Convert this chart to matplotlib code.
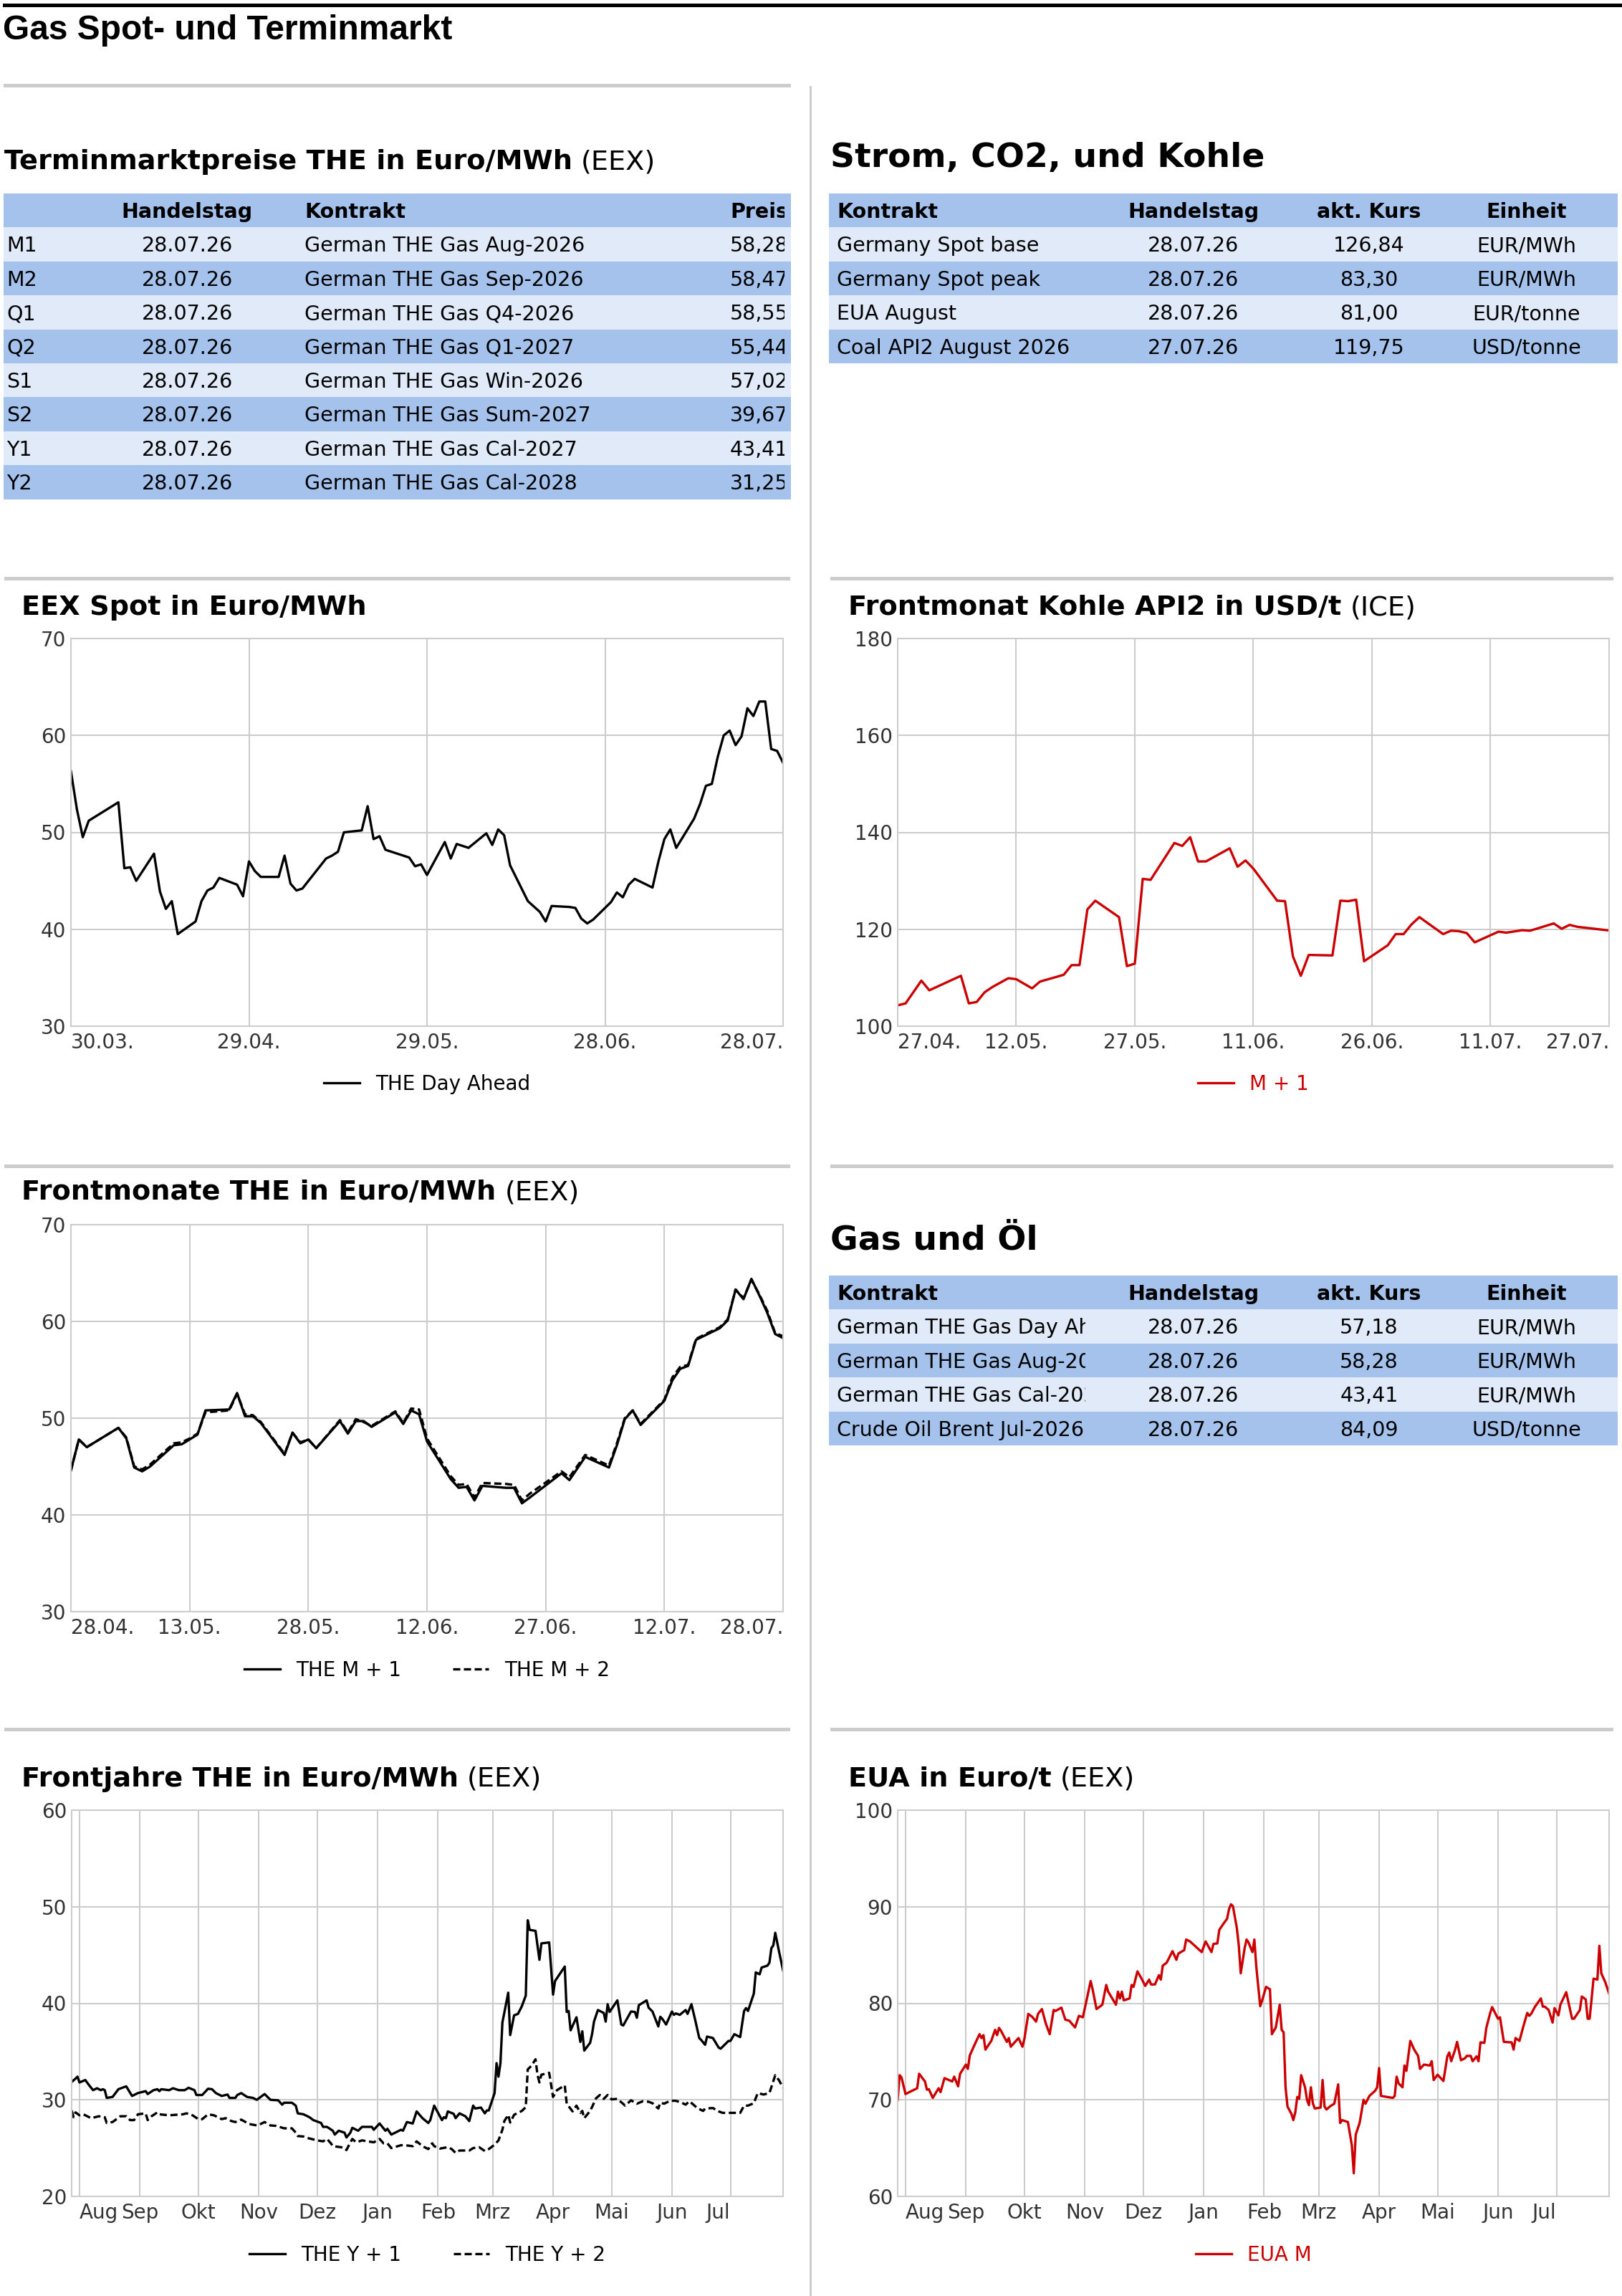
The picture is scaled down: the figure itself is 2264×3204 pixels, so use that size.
import numpy as np
import matplotlib
matplotlib.use("Agg")
import matplotlib.pyplot as plt
import matplotlib.dates as mdates
from matplotlib.patches import Rectangle
from matplotlib.transforms import Bbox

# ---------------- data ----------------
termin_rows = ["M1", "M2", "Q1", "Q2", "S1", "S2", "Y1", "Y2"]
termin_dates = ["28.07.26"] * 8
termin_contracts = ["German THE Gas Aug-2026", "German THE Gas Sep-2026",
                    "German THE Gas Q4-2026", "German THE Gas Q1-2027",
                    "German THE Gas Win-2026", "German THE Gas Sum-2027",
                    "German THE Gas Cal-2027", "German THE Gas Cal-2028"]
termin_prices = [58.28, 58.47, 58.55, 55.44, 57.02, 39.67, 43.41, 31.25]

strom_contracts = ["Germany Spot base", "Germany Spot peak", "EUA August",
                   "Coal API2 August 2026"]
strom_dates = ["28.07.26", "28.07.26", "28.07.26", "27.07.26"]
strom_prices = [126.84, 83.30, 81.00, 119.75]
strom_units = ["EUR/MWh", "EUR/MWh", "EUR/tonne", "USD/tonne"]

gasoel_contracts = ["German THE Gas Day Ahead", "German THE Gas Aug-2026",
                    "German THE Gas Cal-2027", "Crude Oil Brent Jul-2026"]
gasoel_dates = ["28.07.26"] * 4
gasoel_prices = [57.18, 58.28, 43.41, 84.09]
gasoel_units = ["EUR/MWh", "EUR/MWh", "EUR/MWh", "USD/tonne"]

# line series: days after start, value
spot_start = "2026-03-30"
spot_days = [0, 1, 2, 3, 8, 9, 10, 11, 14, 15, 16, 17, 18, 21, 22, 23, 24, 25,
             28, 29, 30, 31, 32, 35, 36, 37, 38, 39, 43, 44, 45, 46, 49, 50, 51,
             52, 53, 57, 58, 59, 60, 63, 64, 65, 67, 70, 71, 72, 73, 74, 77, 79,
             80, 81, 84, 85, 86, 87, 88, 91, 92, 93, 94, 95, 98, 99, 100, 101,
             102, 105, 106, 107, 108, 109, 110, 111, 112, 113, 114, 115, 116,
             117, 118, 119, 120]
spot_vals = [56.3, 52.4, 49.5, 51.2, 53.1, 46.3, 46.4, 45.0, 47.8, 43.9, 42.1,
             42.9, 39.5, 40.8, 42.9, 44.0, 44.3, 45.3, 44.6, 43.4, 47.0, 46.0,
             45.4, 45.4, 47.6, 44.7, 44.0, 44.2, 47.3, 47.6, 48.0, 50.0, 50.2,
             52.7, 49.3, 49.6, 48.2, 47.4, 46.5, 46.7, 45.6, 49.0, 47.3, 48.8,
             48.4, 49.9, 48.7, 50.3, 49.7, 46.6, 42.9, 41.8, 40.8, 42.4, 42.3,
             42.2, 41.1, 40.6, 41.0, 42.8, 43.8, 43.3, 44.6, 45.2, 44.3, 47.0,
             49.3, 50.3, 48.4, 51.4, 52.9, 54.8, 55.0, 57.8, 60.0, 60.5, 59.0,
             59.9, 62.8, 62.0, 63.5, 63.5, 58.6, 58.4, 57.18]
spot_ticks = ["2026-03-30", "2026-04-29", "2026-05-29", "2026-06-28", "2026-07-28"]
spot_ticklabels = ["30.03.", "29.04.", "29.05.", "28.06.", "28.07."]

coal_start = "2026-04-27"
coal_days = [0, 1, 3, 4, 8, 9, 10, 11, 12, 14, 15, 17, 18, 21, 22, 23, 24, 25,
             28, 29, 30, 31, 32, 35, 36, 37, 38, 39, 42, 43, 44, 45, 48, 49, 50,
             51, 52, 55, 56, 57, 58, 59, 62, 63, 64, 65, 66, 69, 70, 71, 72, 73,
             76, 77, 79, 80, 83, 84, 85, 86, 90]
coal_vals = [104.3, 104.7, 109.4, 107.4, 110.4, 104.7, 105.0, 107.0, 108.1,
             109.9, 109.7, 107.8, 109.2, 110.6, 112.6, 112.6, 124.1, 125.9,
             122.5, 112.4, 112.9, 130.4, 130.2, 137.8, 137.2, 139.0, 134.0,
             134.0, 136.7, 132.9, 134.2, 132.5, 125.9, 125.8, 114.4, 110.4,
             114.7, 114.6, 125.9, 125.8, 126.1, 113.4, 116.7, 119.0, 119.0,
             121.0, 122.5, 119.0, 119.7, 119.6, 119.2, 117.3, 119.5, 119.3,
             119.8, 119.7, 121.2, 120.1, 120.9, 120.5, 119.75]
coal_ticks = ["2026-04-27", "2026-05-12", "2026-05-27", "2026-06-11",
              "2026-06-26", "2026-07-11", "2026-07-26"]
coal_ticklabels = ["27.04.", "12.05.", "27.05.", "11.06.", "26.06.", "11.07.", "27.07."]

month_start = "2026-04-28"
month_days = [0, 1, 2, 6, 7, 8, 9, 10, 13, 14, 15, 16, 17, 20, 21, 22, 23, 24,
              27, 28, 29, 30, 31, 34, 35, 36, 37, 38, 41, 42, 43, 44, 45, 48, 49,
              50, 51, 52, 55, 56, 57, 58, 62, 63, 65, 68, 69, 70, 71, 72, 75, 76,
              77, 78, 79, 82, 83, 84, 85, 86, 87, 88, 89, 90]
m1_vals = [44.6, 47.8, 47.0, 49.0, 47.9, 44.9, 44.5, 45.0, 47.2, 47.3, 47.8,
           48.3, 50.8, 50.9, 52.6, 50.2, 50.2, 49.5, 46.2, 48.5, 47.4, 47.8,
           46.9, 49.7, 48.4, 49.7, 49.7, 49.1, 50.6, 49.4, 50.8, 50.4, 47.6,
           43.7, 42.8, 42.9, 41.5, 43.0, 42.8, 42.8, 41.2, 41.8, 44.3, 43.6,
           46.0, 44.9, 47.2, 49.9, 50.8, 49.3, 51.8, 53.9, 55.1, 55.4, 58.1,
           59.3, 60.1, 63.3, 62.3, 64.4, 62.7, 60.9, 58.7, 58.28]
m2_vals = [44.6, 47.8, 47.0, 49.0, 48.0, 45.0, 44.7, 45.2, 47.4, 47.5, 47.9,
           48.4, 50.6, 50.8, 52.5, 50.4, 50.3, 49.6, 46.3, 48.5, 47.5, 47.8,
           46.9, 49.8, 48.5, 49.9, 49.6, 49.2, 50.7, 49.5, 51.0, 50.9, 47.9,
           44.0, 43.1, 43.2, 41.8, 43.3, 43.2, 43.1, 41.5, 42.2, 44.5, 43.9,
           46.2, 45.1, 47.4, 50.0, 50.8, 49.4, 51.9, 54.2, 55.3, 55.5, 58.2,
           59.4, 60.2, 63.3, 62.4, 64.3, 62.8, 61.1, 58.8, 58.47]
month_ticks = ["2026-04-28", "2026-05-13", "2026-05-28", "2026-06-12",
               "2026-06-27", "2026-07-12", "2026-07-27"]
month_ticklabels = ["28.04.", "13.05.", "28.05.", "12.06.", "27.06.", "12.07.", "28.07."]

year_start = "2025-07-28"
y1_points = [(0, 31.85), (2, 32.2), (3, 32.4), (4, 31.8), (7, 32.05), (9, 31.5),
             (11, 31.0), (13, 31.2), (15, 31.0), (16, 31.1), (17, 31.0), (18, 30.2),
             (21, 30.3), (24, 31.1), (28, 31.4), (31, 30.4), (34, 30.7), (36, 30.8),
             (38, 30.9), (39, 30.6), (42, 31.0), (44, 31.1), (45, 30.9), (46, 31.1),
             (50, 31.0), (52, 31.2), (55, 31.0), (58, 31.0), (60, 31.25), (63, 31.0),
             (64, 30.5), (67, 30.5), (70, 31.15), (72, 31.1), (74, 30.7), (77, 30.4),
             (80, 30.55), (81, 30.2), (84, 30.2), (85, 30.5), (87, 30.7), (90, 30.3),
             (93, 30.2), (95, 30.0), (99, 30.6), (102, 30.0), (106, 29.95), (108, 29.5),
             (109, 29.7), (113, 29.7), (115, 29.4), (116, 28.6), (119, 28.5),
             (121, 28.3), (122, 28.2), (124, 27.9), (128, 27.6), (129, 27.2),
             (131, 27.2), (134, 26.8), (135, 26.4), (137, 26.8), (140, 26.6),
             (141, 26.1), (143, 26.6), (144, 27.1), (147, 26.8), (149, 27.2),
             (154, 27.2), (155, 26.9), (158, 27.55), (161, 26.8), (162, 27.0),
             (164, 26.4), (169, 26.9), (170, 26.8), (172, 27.7), (175, 27.55),
             (177, 28.8), (180, 28.1), (183, 27.6), (184, 27.9), (186, 29.4),
             (190, 27.9), (191, 28.2), (192, 28.1), (193, 28.8), (196, 28.55),
             (197, 28.1), (199, 28.6), (202, 28.3), (204, 27.8), (206, 29.4),
             (207, 29.1), (210, 29.2), (212, 28.6), (213, 28.9), (214, 28.9),
             (217, 30.7), (218, 33.8), (219, 32.4), (220, 33.8), (221, 38.0),
             (224, 41.1), (225, 36.7), (227, 38.75), (229, 38.9), (231, 39.7),
             (233, 40.8), (234, 48.6), (235, 47.6), (238, 47.5), (240, 44.5),
             (241, 46.2), (245, 46.3), (247, 40.9), (248, 42.3), (253, 43.8),
             (254, 39.1), (255, 39.2), (256, 37.2), (259, 38.55), (261, 36.0),
             (262, 37.1), (263, 35.1), (266, 35.9), (267, 36.8), (268, 38.1),
             (270, 39.3), (273, 39.0), (274, 38.1), (275, 39.9), (276, 39.1),
             (280, 40.3), (282, 37.8), (283, 37.7), (287, 39.15), (289, 39.1),
             (290, 38.5), (291, 39.8), (295, 40.3), (296, 39.55), (298, 39.15),
             (301, 37.6), (302, 38.6), (303, 38.4), (305, 37.8), (308, 39.15),
             (309, 38.8), (310, 38.95), (312, 38.8), (315, 39.3), (316, 38.9),
             (318, 39.9), (320, 38.2), (322, 36.4), (323, 36.2), (325, 35.7),
             (326, 36.55), (329, 36.4), (332, 35.4), (333, 35.3), (337, 36.1),
             (338, 36.1), (340, 36.8), (343, 36.5), (345, 39.2), (346, 39.5),
             (347, 39.2), (350, 41.0), (351, 43.2), (353, 43.0), (354, 43.7),
             (357, 43.9), (358, 44.2), (359, 45.7), (360, 46.0), (361, 47.3),
             (363, 45.3), (365, 43.41)]
y2_points = [(0, 28.9), (1, 28.2), (2, 28.7), (4, 28.4), (6, 28.5), (10, 28.1),
             (14, 28.3), (17, 28.2), (18, 27.6), (21, 27.7), (25, 28.3), (28, 28.3),
             (30, 27.9), (32, 27.9), (34, 28.5), (38, 28.6), (39, 27.9), (41, 28.3),
             (44, 28.7), (45, 28.5), (50, 28.4), (57, 28.5), (59, 28.6), (62, 28.4),
             (65, 28.0), (67, 28.0), (70, 28.5), (73, 28.4), (77, 28.0), (79, 28.1),
             (82, 27.8), (84, 27.7), (87, 27.95), (91, 27.5), (95, 27.35), (96, 27.4),
             (99, 27.7), (102, 27.35), (105, 27.3), (109, 27.05), (113, 27.05),
             (115, 26.6), (116, 26.25), (119, 26.2), (121, 26.05), (126, 25.8),
             (129, 25.7), (131, 25.95), (133, 25.5), (134, 25.2), (138, 25.1),
             (140, 25.0), (141, 24.8), (142, 25.2), (144, 25.95), (146, 25.6),
             (149, 25.8), (152, 25.7), (155, 25.6), (158, 25.95), (160, 25.5),
             (162, 25.5), (164, 25.0), (169, 25.3), (171, 25.3), (175, 25.2),
             (177, 25.7), (180, 25.2), (183, 24.9), (185, 25.5), (186, 25.2),
             (189, 24.95), (193, 25.1), (195, 24.9), (197, 24.5), (199, 24.75),
             (204, 24.75), (206, 25.0), (209, 25.1), (212, 24.7), (214, 24.9),
             (217, 25.35), (219, 25.8), (221, 26.9), (222, 27.8), (224, 28.45),
             (225, 27.65), (227, 28.45), (231, 28.85), (233, 29.25), (234, 33.15),
             (236, 33.55), (238, 34.2), (239, 32.6), (240, 31.8), (241, 32.6),
             (245, 32.8), (247, 30.3), (249, 31.0), (253, 31.5), (254, 29.6),
             (257, 28.8), (259, 29.4), (261, 28.65), (262, 28.85), (263, 28.1),
             (266, 28.85), (267, 29.25), (269, 30.15), (271, 30.5), (273, 30.1),
             (275, 30.5), (277, 30.05), (280, 30.1), (284, 29.4), (287, 29.95),
             (290, 29.6), (293, 29.85), (296, 29.8), (298, 29.65), (301, 29.1),
             (302, 29.7), (304, 29.6), (307, 29.9), (310, 29.9), (313, 29.7),
             (315, 29.5), (317, 29.85), (321, 29.15), (324, 28.85), (325, 29.1),
             (329, 29.15), (332, 28.8), (334, 28.65), (343, 28.65), (345, 29.4),
             (347, 29.4), (350, 29.65), (352, 30.7), (355, 30.55), (358, 30.7),
             (361, 32.55), (363, 32.0), (365, 31.25)]
eua_points = [(0, 70.0), (1, 72.55), (2, 72.3), (4, 70.6), (10, 71.2), (11, 72.7),
              (14, 71.9), (15, 71.05), (16, 71.1), (18, 70.2), (21, 71.2), (22, 70.8),
              (24, 72.25), (28, 71.9), (29, 72.4), (31, 71.4), (32, 72.7), (35, 73.65),
              (36, 73.2), (37, 74.6), (40, 75.95), (42, 76.8), (43, 76.4), (44, 76.7),
              (45, 75.2), (48, 76.1), (50, 77.25), (51, 76.7), (52, 77.45), (53, 77.15),
              (56, 76.0), (57, 76.4), (58, 75.5), (62, 76.4), (64, 75.5), (65, 76.3),
              (67, 78.9), (69, 78.6), (71, 78.1), (72, 78.9), (74, 79.4), (76, 77.9),
              (78, 76.8), (80, 79.3), (81, 79.2), (84, 79.55), (86, 78.3), (88, 78.2),
              (91, 77.5), (93, 78.7), (95, 78.55), (97, 80.4), (99, 82.3), (100, 81.45),
              (102, 79.4), (105, 79.85), (107, 81.9), (108, 81.2), (112, 79.85),
              (113, 81.2), (114, 80.5), (115, 81.2), (116, 80.3), (119, 80.5),
              (120, 81.9), (121, 81.7), (123, 83.3), (125, 82.6), (127, 81.8),
              (129, 82.45), (130, 81.95), (132, 81.95), (134, 82.9), (135, 82.45),
              (136, 83.9), (138, 84.2), (141, 85.4), (143, 84.5), (144, 85.15),
              (147, 85.5), (148, 86.6), (150, 86.4), (156, 85.3), (158, 86.4),
              (161, 85.3), (162, 86.15), (164, 86.2), (165, 87.6), (167, 88.2),
              (169, 88.75), (170, 89.75), (171, 90.25), (172, 90.05), (174, 87.8),
              (175, 86.0), (176, 83.1), (178, 85.7), (179, 86.6), (180, 86.3),
              (182, 85.3), (183, 86.6), (184, 83.75), (186, 79.7), (187, 80.3),
              (189, 81.7), (191, 81.45), (192, 76.8), (194, 77.5), (196, 79.85),
              (197, 77.25), (198, 77.0), (199, 71.3), (200, 69.3), (202, 68.55),
              (203, 67.9), (204, 68.7), (205, 70.3), (206, 70.1), (207, 72.55),
              (209, 71.3), (210, 70.0), (211, 69.45), (212, 71.3), (213, 69.65),
              (214, 69.1), (217, 69.2), (218, 72.05), (219, 69.3), (220, 69.0),
              (222, 69.35), (224, 69.6), (226, 71.6), (227, 67.6), (228, 67.9),
              (231, 67.7), (233, 65.3), (234, 62.4), (235, 66.4), (237, 67.6),
              (239, 70.0), (240, 69.6), (242, 70.4), (245, 70.95), (246, 71.3),
              (247, 73.3), (248, 70.4), (254, 70.2), (255, 70.4), (256, 72.4),
              (257, 71.7), (259, 71.3), (260, 73.55), (261, 73.0), (263, 76.1),
              (265, 75.2), (267, 74.55), (268, 73.2), (270, 73.65), (273, 73.55),
              (274, 74.0), (275, 72.05), (277, 72.6), (280, 71.95), (282, 74.5),
              (283, 74.9), (284, 74.0), (286, 75.2), (287, 76.0), (289, 74.1),
              (291, 74.3), (292, 74.55), (294, 74.55), (295, 74.0), (297, 74.5),
              (298, 74.0), (299, 75.95), (301, 75.9), (302, 77.45), (304, 79.0),
              (305, 79.6), (308, 78.4), (309, 78.55), (311, 76.0), (315, 75.95),
              (316, 75.2), (317, 76.4), (319, 76.1), (321, 77.6), (323, 79.0),
              (324, 78.7), (325, 78.9), (327, 79.65), (330, 80.5), (331, 79.65),
              (332, 79.65), (334, 79.3), (336, 78.0), (337, 79.5), (339, 78.75),
              (340, 79.85), (343, 81.15), (346, 78.4), (347, 78.4), (350, 79.3),
              (351, 80.7), (353, 80.4), (354, 78.4), (355, 78.4), (356, 80.4),
              (357, 82.55), (359, 82.45), (360, 85.95), (361, 83.1), (363, 82.2),
              (365, 81.0)]
year_ticks = ["2025-08-01", "2025-09-01", "2025-10-01", "2025-11-01", "2025-12-01",
              "2026-01-01", "2026-02-01", "2026-03-01", "2026-04-01", "2026-05-01",
              "2026-06-01", "2026-07-01"]
year_ticklabels = ["Aug", "Sep", "Okt", "Nov", "Dez", "Jan", "Feb", "Mrz", "Apr",
                   "Mai", "Jun", "Jul"]

# ---------------- layout ----------------
W, H = 2264, 3204
DPI = 100
RED = "#cc0000"
GRID = "#cccccc"
DARK = "#a4c2ec"
LIGHT = "#e1eaf8"
ROW_H = 47.4
TXT = 20.5

plt.rcParams["font.family"] = ["DejaVu Sans"]

fig = plt.figure(figsize=(W / DPI, H / DPI), dpi=DPI)
page = fig.add_axes([0, 0, 1, 1])
page.set_xlim(0, W)
page.set_ylim(H, 0)
page.axis("off")
renderer = fig.canvas.get_renderer()


def fmt(v):
    return f"{v:.2f}".replace(".", ",")


def bar(x0, y0, w, h, color):
    page.add_patch(Rectangle((x0, y0), w, h, facecolor=color, edgecolor="none"))


def heading(x, y, bold, rest, size):
    t = page.text(x, y, bold, fontsize=size, fontweight="bold", va="baseline")
    if rest:
        bb = t.get_window_extent(renderer)
        page.text(bb.x1 + 0.32 * size * DPI / 72, y, rest, fontsize=size, va="baseline")


def table(x0, x1, top, header, rows, cols):
    n = len(rows) + 1
    for i in range(n):
        bar(x0, top + i * ROW_H, x1 - x0, ROW_H, DARK if i % 2 == 0 else LIGHT)
    for i, cells in enumerate([header] + rows):
        yb = top + i * ROW_H + ROW_H / 2 + 0.3645 * TXT * DPI / 72
        for j, s in enumerate(cells):
            x, ha, clipx = cols[j]
            t = page.text(x, yb, s, fontsize=TXT, ha=ha, va="baseline",
                          fontweight="bold" if i == 0 else "normal")
            if clipx is not None:
                t.set_clip_on(True)
                t.set_clip_box(Bbox([[x0, 0], [clipx, H]]))


def chart(box, start, span, series, ylim, yticks, ticks, ticklabels, leg_frac):
    x0, y0, x1, y1 = box
    ax = fig.add_axes([x0 / W, 1 - y1 / H, (x1 - x0) / W, (y1 - y0) / H])
    base = mdates.date2num(np.datetime64(start))
    for days, vals, label, color, dashed in series:
        line, = ax.plot(base + np.asarray(days), vals, color=color, lw=2.4,
                        label=label, solid_joinstyle="round")
        if dashed:
            line.set_dashes((3.0, 1.5))
    tick_pos = mdates.date2num(np.array(ticks, dtype="datetime64[D]"))
    ax.set_xlim(base, base + span)
    ax.set_ylim(*ylim)
    ax.set_yticks(yticks)
    ax.set_xticks(tick_pos, ticklabels)
    ax.grid(True, color=GRID, lw=1.45)
    ax.set_axisbelow(True)
    for sp in ax.spines.values():
        sp.set_color(GRID)
        sp.set_linewidth(1.45)
    ax.tick_params(length=0, labelsize=20, labelcolor="#333333")
    ax.tick_params(axis="y", pad=5)
    ax.tick_params(axis="x", pad=6.5)
    labs = ax.get_xticklabels()
    labs[0].set_ha("left")
    labs[-1].set_ha("right")
    ax.legend(loc="center", bbox_to_anchor=(0.5, leg_frac), ncol=len(series),
              frameon=False, fontsize=20, handlelength=1.8, handletextpad=0.8,
              columnspacing=2.6, labelcolor="linecolor", borderpad=0,
              borderaxespad=0)
    return ax


# page frame
bar(4, 5, W - 4, 4.5, "black")
page.text(4, 55, "Gas Spot- und Terminmarkt", fontsize=34.5, fontweight="bold",
          family="Liberation Sans", va="baseline")
bar(5, 117, 1099, 5, GRID)
bar(1130, 120, 3, H - 120, GRID)
for yy in (805, 1625, 2411):
    bar(6, yy, 1097, 4.5, GRID)
    bar(1159, yy, 1093, 4.5, GRID)

# tables
heading(6, 236, "Terminmarktpreise THE in Euro/MWh", "(EEX)", 27.5)
table(5, 1104, 270, ["", "Handelstag", "Kontrakt", "Preis"],
      [[r, d, c, fmt(p)] for r, d, c, p in zip(termin_rows, termin_dates,
                                              termin_contracts, termin_prices)],
      [(9, "left", None), (261, "center", None), (425, "left", None),
       (1019, "left", 1095)])

heading(1159, 233, "Strom, CO2, und Kohle", "", 34)
table(1157, 2258, 270, ["Kontrakt", "Handelstag", "akt. Kurs", "Einheit"],
      [[c, d, fmt(p), u] for c, d, p, u in zip(strom_contracts, strom_dates,
                                              strom_prices, strom_units)],
      [(1168, "left", None), (1666, "center", None), (1911, "center", None),
       (2131, "center", None)])

heading(1159, 1744, "Gas und Öl", "", 34)
table(1157, 2258, 1780, ["Kontrakt", "Handelstag", "akt. Kurs", "Einheit"],
      [[c, d, fmt(p), u] for c, d, p, u in zip(gasoel_contracts, gasoel_dates,
                                              gasoel_prices, gasoel_units)],
      [(1168, "left", 1515), (1666, "center", None), (1911, "center", None),
       (2131, "center", None)])

# charts
heading(30, 858, "EEX Spot in Euro/MWh", "", 27.5)
chart((99, 891, 1093, 1432), spot_start, 120,
      [(spot_days, spot_vals, "THE Day Ahead", "black", False)],
      (30, 70), [30, 40, 50, 60, 70], spot_ticks, spot_ticklabels, -0.15)

heading(1184, 858, "Frontmonat Kohle API2 in USD/t", "(ICE)", 27.5)
chart((1253, 891, 2246, 1432), coal_start, 90,
      [(coal_days, coal_vals, "M + 1", RED, False)],
      (100, 180), [100, 120, 140, 160, 180], coal_ticks, coal_ticklabels, -0.15)

heading(30, 1674, "Frontmonate THE in Euro/MWh", "(EEX)", 27.5)
chart((99, 1709, 1093, 2249), month_start, 90,
      [(month_days, m1_vals, "THE M + 1", "black", False),
       (month_days, m2_vals, "THE M + 2", "black", True)],
      (30, 70), [30, 40, 50, 60, 70], month_ticks, month_ticklabels, -0.152)

y1_days, y1_vals = zip(*y1_points)
y2_days, y2_vals = zip(*y2_points)
eua_days, eua_vals = zip(*eua_points)

heading(30, 2493, "Frontjahre THE in Euro/MWh", "(EEX)", 27.5)
chart((100, 2526, 1093, 3065), year_start, 365,
      [(y1_days, y1_vals, "THE Y + 1", "black", False),
       (y2_days, y2_vals, "THE Y + 2", "black", True)],
      (20, 60), [20, 30, 40, 50, 60], year_ticks, year_ticklabels, -0.152)

heading(1184, 2493, "EUA in Euro/t", "(EEX)", 27.5)
chart((1253, 2526, 2246, 3065), year_start, 365,
      [(eua_days, eua_vals, "EUA M", RED, False)],
      (60, 100), [60, 70, 80, 90, 100], year_ticks, year_ticklabels, -0.152)

fig.savefig("out.png", dpi=DPI)
